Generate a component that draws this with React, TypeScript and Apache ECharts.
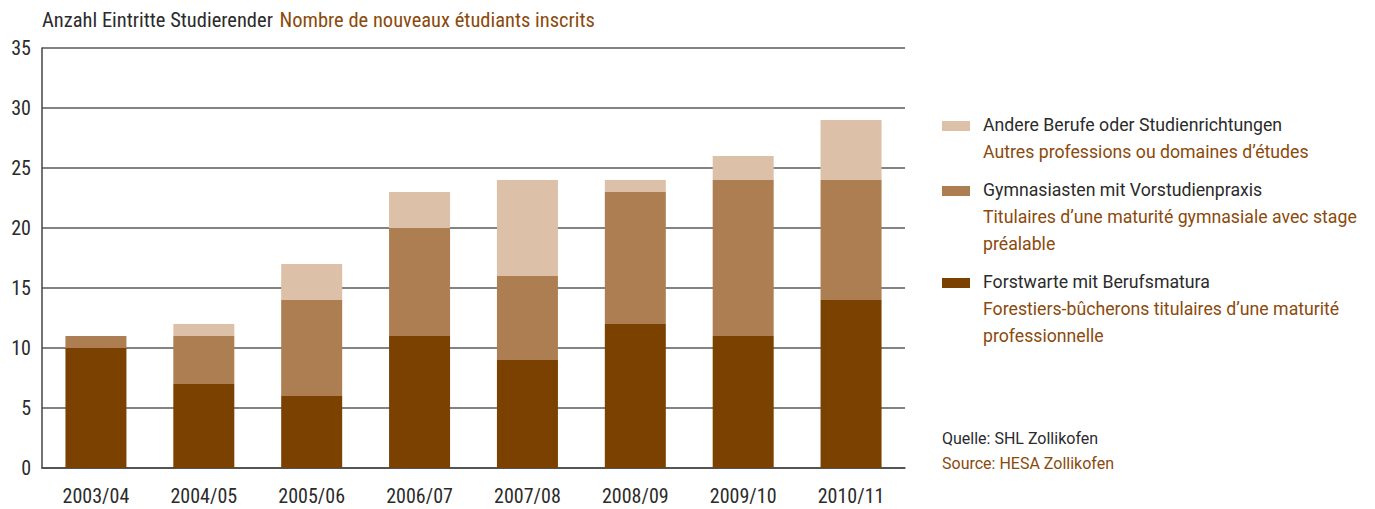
import React, { useEffect, useRef } from "react";
import * as echarts from "echarts";

const categories = ["2003/04", "2004/05", "2005/06", "2006/07", "2007/08", "2008/09", "2009/10", "2010/11"];
const forstwarte = [10, 7, 6, 11, 9, 12, 11, 14];
const gymnasiasten = [1, 4, 8, 9, 7, 11, 13, 10];
const andere = [0, 1, 3, 3, 8, 1, 2, 5];
const yTicks = { min: 0, max: 35, interval: 5 };

const C_DARK = "#7B4100";
const C_MID = "#AD7E51";
const C_LIGHT = "#DCC1A8";
const C_TEXT = "#2b2b2b";
const C_ORANGE = "#8B4A0C";
const FONT = "'Roboto Condensed', 'Liberation Sans Narrow', sans-serif";
const FONT2 = "Roboto, 'Liberation Sans', sans-serif";

const legendItems = [
  { color: C_LIGHT, de: "Andere Berufe oder Studienrichtungen", fr: ["Autres professions ou domaines d\u2019\u00e9tudes"] },
  { color: C_MID, de: "Gymnasiasten mit Vorstudienpraxis", fr: ["Titulaires d\u2019une maturit\u00e9 gymnasiale avec stage", "pr\u00e9alable"] },
  { color: C_DARK, de: "Forstwarte mit Berufsmatura", fr: ["Forestiers-b\u00fbcherons titulaires d\u2019une maturit\u00e9", "professionnelle"] },
];

export default function App() {
  const ref = useRef<HTMLDivElement>(null);
  useEffect(() => {
    if (!ref.current) return;
    const chart = echarts.init(ref.current, undefined, { renderer: "svg" });
    const graphics: any[] = [];
    const lineH = 27;
    let y = 118;
    legendItems.forEach((it) => {
      graphics.push({ type: "rect", left: 934, top: y - 5, shape: { width: 28, height: 10 }, style: { fill: it.color } });
      graphics.push({ type: "text", left: 975, top: y - 10, style: { text: it.de, font: `17.7px ${FONT2}`, fill: C_TEXT } });
      it.fr.forEach((t, i) => {
        graphics.push({ type: "text", left: 975, top: y - 10 + lineH * (i + 1), style: { text: t, font: `17.7px ${FONT2}`, fill: C_ORANGE } });
      });
      y += lineH * (it.fr.length + 1) + 11;
    });
    graphics.push({ type: "text", left: 934, top: 422, style: { text: "Quelle: SHL Zollikofen", font: `16px ${FONT2}`, fill: C_TEXT } });
    graphics.push({ type: "text", left: 934, top: 447, style: { text: "Source: HESA Zollikofen", font: `16px ${FONT2}`, fill: C_ORANGE } });
    graphics.push({
      type: "text",
      left: 34,
      top: 1,
      style: {
        text: "{a|Anzahl Eintritte Studierender}  {b|Nombre de nouveaux \u00e9tudiants inscrits}",
        rich: {
          a: { font: `20.5px ${FONT}`, fill: C_TEXT, color: C_TEXT },
          b: { font: `20.5px ${FONT}`, fill: C_ORANGE, color: C_ORANGE },
        },
      },
    });

    const barW = 61;
    chart.setOption({
      animation: false,
      grid: { left: 34, top: 40, width: 863, height: 420, containLabel: false },
      xAxis: {
        type: "category",
        data: categories,
        axisLine: { show: true, lineStyle: { color: "#444", width: 1.5 } },
        axisTick: { show: false },
        axisLabel: { color: C_TEXT, fontSize: 20, fontFamily: FONT, margin: 18 },
      },
      yAxis: {
        type: "value",
        min: yTicks.min,
        max: yTicks.max,
        interval: yTicks.interval,
        axisLine: { show: true, lineStyle: { color: "#444", width: 1.5 } },
        axisTick: { show: false },
        splitLine: { show: true, lineStyle: { color: "#5a5a5a", width: 1.5 } },
        axisLabel: { color: C_TEXT, fontSize: 20, fontFamily: FONT, margin: 11 },
      },
      series: [
        { name: "Forstwarte mit Berufsmatura", type: "bar", stack: "s", data: forstwarte, barWidth: barW, itemStyle: { color: C_DARK } },
        { name: "Gymnasiasten mit Vorstudienpraxis", type: "bar", stack: "s", data: gymnasiasten, barWidth: barW, itemStyle: { color: C_MID } },
        { name: "Andere Berufe oder Studienrichtungen", type: "bar", stack: "s", data: andere, barWidth: barW, itemStyle: { color: C_LIGHT } },
      ],
      graphic: graphics,
    });
    return () => chart.dispose();
  }, []);
  return <div ref={ref} style={{ width: 1359, height: 501 }} />;
}
